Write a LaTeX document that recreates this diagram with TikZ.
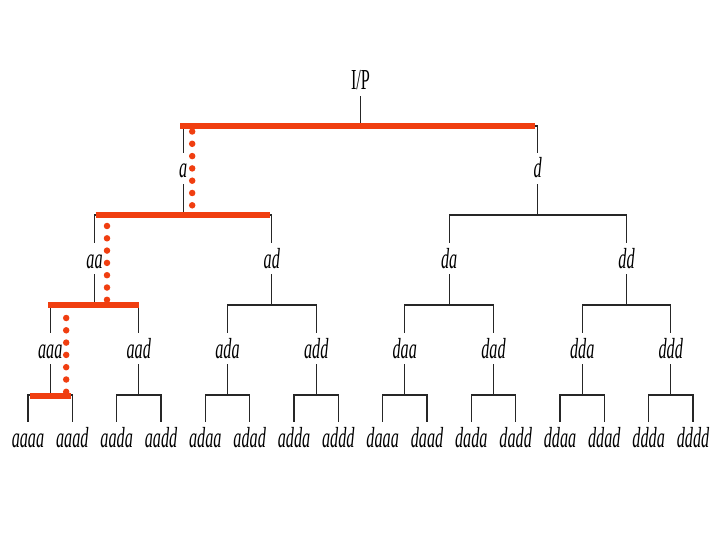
\documentclass[tikz,border=0pt]{standalone}
\usepackage{fontspec}
\newfontfamily\treefont[FakeStretch=0.56]{Liberation Serif}
\definecolor{pathred}{RGB}{240,62,16}

\tikzset{
  lbl/.style={font=\treefont\itshape\fontsize{29}{29}\selectfont,
    text height=19pt, text depth=0pt, inner xsep=1pt, inner ysep=6pt},
  rootlbl/.style={lbl, font=\treefont\fontsize{29}{29}\selectfont},
  edge/.style={line width=1.3pt, black!85},
  redbar/.style={line width=6pt, pathred},
  reddots/.style={line width=6.5pt, pathred, line cap=round,
    dash pattern=on 0pt off 12.3pt},
}
% parent, left child, right child, height of the bar
\newcommand{\branch}[4]{%
  \draw[edge] (#1.south) -- (#1.south |- 0,#4);
  \draw[edge] (#2.north) -- (#2.north |- 0,#4) -- (#3.north |- 0,#4) -- (#3.north);
}

\begin{document}
\begin{tikzpicture}[x=1pt, y=-1pt]
  \useasboundingbox (0,0) rectangle (720,540);

  % root and first two levels
  \node[rootlbl] (ip) at (360.5,80.5) {I/P};
  \node[lbl] (a) at (183.2,168.5) {a};
  \node[lbl] (d) at (537.8,168.5) {d};
  \node[lbl] (aa) at (94.5,258.5) {aa};
  \node[lbl] (ad) at (271.8,258.5) {ad};
  \node[lbl] (da) at (449.2,258.5) {da};
  \node[lbl] (dd) at (626.5,258.5) {dd};

  % third level
  \node[lbl] (aaa) at (50.2,348.5) {aaa};
  \node[lbl] (aad) at (138.8,348.5) {aad};
  \node[lbl] (ada) at (227.5,348.5) {ada};
  \node[lbl] (add) at (316.2,348.5) {add};
  \node[lbl] (daa) at (404.8,348.5) {daa};
  \node[lbl] (dad) at (493.5,348.5) {dad};
  \node[lbl] (dda) at (582.2,348.5) {dda};
  \node[lbl] (ddd) at (670.8,348.5) {ddd};

  % leaves
  \node[lbl] (aaaa) at (28.0,437.5) {aaaa};
  \node[lbl] (aaad) at (72.3,437.5) {aaad};
  \node[lbl] (aada) at (116.7,437.5) {aada};
  \node[lbl] (aadd) at (161.0,437.5) {aadd};
  \node[lbl] (adaa) at (205.3,437.5) {adaa};
  \node[lbl] (adad) at (249.7,437.5) {adad};
  \node[lbl] (adda) at (294.0,437.5) {adda};
  \node[lbl] (addd) at (338.3,437.5) {addd};
  \node[lbl] (daaa) at (382.7,437.5) {daaa};
  \node[lbl] (daad) at (427.0,437.5) {daad};
  \node[lbl] (dada) at (471.3,437.5) {dada};
  \node[lbl] (dadd) at (515.7,437.5) {dadd};
  \node[lbl] (ddaa) at (560.0,437.5) {ddaa};
  \node[lbl] (ddad) at (604.3,437.5) {ddad};
  \node[lbl] (ddda) at (648.7,437.5) {ddda};
  \node[lbl] (dddd) at (693.0,437.5) {dddd};

  % tree edges
  \branch{ip}{a}{d}{126}
  \branch{a}{aa}{ad}{215}
  \branch{d}{da}{dd}{215}
  \branch{aa}{aaa}{aad}{305}
  \branch{ad}{ada}{add}{305}
  \branch{da}{daa}{dad}{305}
  \branch{dd}{dda}{ddd}{305}
  \branch{aaa}{aaaa}{aaad}{395}
  \branch{aad}{aada}{aadd}{395}
  \branch{ada}{adaa}{adad}{395}
  \branch{add}{adda}{addd}{395}
  \branch{daa}{daaa}{daad}{395}
  \branch{dad}{dada}{dadd}{395}
  \branch{dda}{ddaa}{ddad}{395}
  \branch{ddd}{ddda}{dddd}{395}

  % search path in red
  \draw[redbar] ([xshift=-3pt]a.north |- 0,126) -- ([xshift=-3pt]d.north |- 0,126);
  \draw[redbar] ([xshift=1pt]aa.north |- 0,215) -- ([xshift=-2pt]ad.north |- 0,215);
  \draw[redbar] ([xshift=-2pt]aaa.north |- 0,305) -- (aad.north |- 0,305);
  \draw[redbar] ([xshift=2pt]aaaa.north |- 0,396) -- ([xshift=-1pt]aaad.north |- 0,396);
  \draw[reddots] ([xshift=9pt]a.center |- 0,131.5) -- ++(0,73.8);
  \draw[reddots] ([xshift=12.5pt]aa.center |- 0,226) -- ++(0,73.8);
  \draw[reddots] ([xshift=16pt]aaa.center |- 0,318) -- ++(0,73.8);
\end{tikzpicture}
\end{document}
